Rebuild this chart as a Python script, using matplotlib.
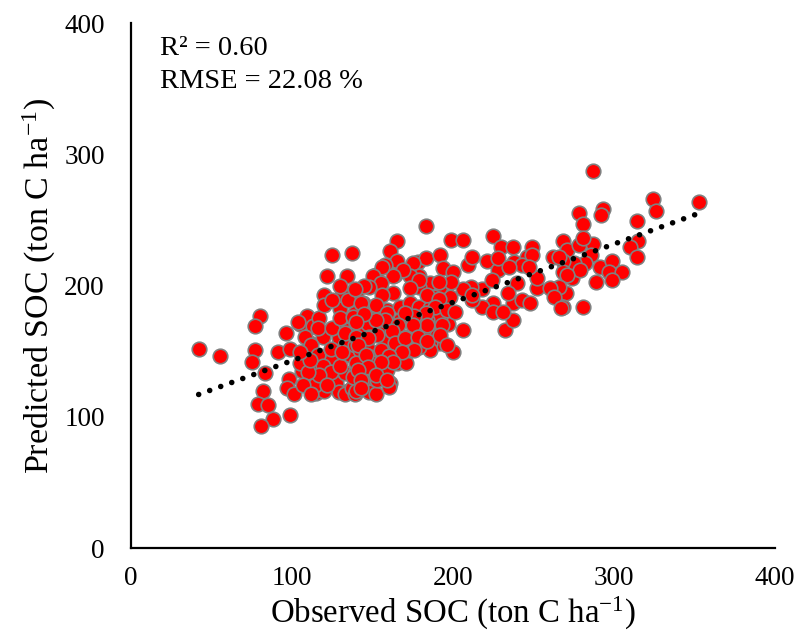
import numpy as np
import matplotlib
matplotlib.use("Agg")
import matplotlib.pyplot as plt

plt.rcParams['font.family'] = ['Liberation Serif', 'DejaVu Serif']
plt.rcParams['mathtext.fontset'] = 'custom'
plt.rcParams['mathtext.rm'] = 'Liberation Serif'
plt.rcParams['mathtext.it'] = 'Liberation Serif:italic'

# Observed SOC (x) and predicted SOC (y), ton C ha-1
observed_left = [42, 55, 80, 77, 77, 75, 83, 82, 79, 85, 88, 81, 99, 91, 96, 99, 98, 97, 101, 106,
                 105, 109, 113, 111, 117, 119, 125, 137, 122, 134, 120, 131, 140, 130, 139, 132, 125,
                 113, 115, 122, 127, 133, 139, 135, 144, 147, 144, 106, 104, 105, 129, 129, 120, 113]
predicted_left = [152, 146, 177, 169, 151, 142, 133, 120, 110, 109, 98, 93, 101, 149, 164, 152, 129,
                  122, 117, 135, 171, 177, 169, 156, 175, 161, 223, 225, 207, 207, 193, 193, 194, 182,
                  179, 168, 145, 126, 118, 128, 126, 133, 133, 120, 126, 184, 147, 145, 172, 141, 160,
                  119, 120, 136]

observed_dense = [108, 112, 116, 124, 133, 136, 119, 124, 130, 139, 114, 133, 137, 117, 110, 107, 111,
                  131, 139, 105, 116, 125, 135, 130, 120, 125, 135, 130, 140, 143, 145, 142, 145, 139,
                  145, 148, 152, 133, 112, 122]
predicted_dense = [161, 155, 147, 152, 155, 147, 139, 134, 139, 128, 124, 117, 122, 132, 134, 124, 143,
                   149, 155, 149, 168, 168, 166, 175, 185, 189, 189, 200, 170, 166, 155, 143, 136, 117,
                   124, 119, 117, 164, 117, 124]

observed_mid = [183, 199, 206, 225, 165, 161, 165, 158, 152, 164, 178, 183, 192, 194, 200, 209, 212,
                221, 230, 237, 238, 246, 249, 249, 228, 175, 228, 243, 235, 240, 237, 232, 237, 218,
                225, 234, 218, 225, 231, 243, 248, 211, 212, 206, 206, 200, 197, 195, 198, 192, 188,
                186, 179, 179, 173, 169, 163, 156, 150, 155, 148, 163, 156, 144, 138, 147, 153, 159,
                167, 173, 179, 186, 192, 184, 178, 173, 167, 161, 156, 148, 140, 142, 148, 159, 165,
                171, 178, 184, 190, 192, 186, 169, 163, 156, 147, 140, 138, 144, 140, 159, 165, 171,
                161, 160, 153, 150, 186, 179, 173]
predicted_mid = [245, 235, 235, 238, 234, 226, 219, 216, 208, 208, 218, 221, 223, 213, 210, 216, 222,
                 219, 229, 229, 218, 222, 229, 223, 212, 217, 221, 216, 214, 202, 187, 166, 174, 197,
                 187, 194, 184, 180, 180, 189, 187, 199, 189, 197, 166, 149, 171, 181, 191, 199, 191,
                 202, 199, 207, 207, 212, 207, 214, 207, 202, 199, 194, 193, 187, 176, 171, 176, 181,
                 184, 187, 184, 183, 176, 174, 171, 174, 174, 171, 164, 161, 161, 151, 151, 158, 161,
                 161, 164, 161, 162, 156, 156, 151, 151, 149, 146, 141, 130, 128, 120, 136, 141, 141,
                 126, 123, 128, 141, 151, 153, 151]

observed_mid2 = [224, 212, 199, 191, 179, 173, 145, 139, 143, 152, 184, 191, 189, 196, 201, 183, 176,
                 170, 159, 158, 152, 145, 140, 193, 184, 175, 166, 162, 153, 147, 141, 146, 155, 164,
                 170, 178, 184, 192, 196, 176, 168, 160, 163, 155, 147, 141, 152, 143, 159, 143]
predicted_mid2 = [204, 193, 203, 203, 204, 198, 200, 197, 187, 185, 193, 190, 184, 181, 180, 179, 177,
                  179, 179, 174, 174, 178, 172, 170, 170, 170, 170, 165, 162, 160, 155, 147, 151, 156,
                  160, 161, 158, 162, 155, 151, 149, 146, 142, 142, 138, 136, 132, 128, 128, 122]

observed_right = [287, 324, 326, 353, 293, 292, 278, 281, 314, 315, 310, 314, 268, 271, 278, 287, 281,
                  286, 282, 275, 268, 291, 299, 297, 305, 299, 289, 274, 268, 270, 268, 281, 279, 262,
                  271, 266, 252, 260, 266, 252, 263, 267, 247]
predicted_right = [287, 266, 257, 264, 258, 254, 255, 247, 249, 234, 229, 222, 234, 227, 231, 232, 236,
                   223, 217, 217, 219, 214, 219, 210, 210, 204, 203, 206, 210, 194, 184, 184, 212, 222,
                   208, 199, 198, 198, 222, 206, 191, 183, 214]

x_ticks = [0, 100, 200, 300, 400]
y_ticks = [0, 100, 200, 300, 400]
r2_text = "R\u00b2 = 0.60"
rmse_text = "RMSE = 22.08 %"
x_label = r"Observed SOC (ton C ha$^{\mathrm{-1}}$)"
y_label = r"Predicted SOC (ton C ha$^{\mathrm{-1}}$)"

observed = np.array(observed_left + observed_dense + observed_mid + observed_mid2 + observed_right, float)
predicted = np.array(predicted_left + predicted_dense + predicted_mid + predicted_mid2 + predicted_right, float)

fig = plt.figure(figsize=(7.99, 6.34), dpi=100)
ax = fig.add_axes([0.164, 0.1356, 0.806, 0.8281])

ax.scatter(observed, predicted, s=110, c='#ff0000', edgecolors='#808080', linewidths=1.2, zorder=2)

slope, intercept = np.polyfit(observed, predicted, 1)
xl = np.array([observed.min(), observed.max()])
ax.plot(xl, slope * xl + intercept, color='black', linewidth=4.0,
        linestyle=(0, (0.01, 2.1)), dash_capstyle='round', zorder=3)

ax.set_xlim(0, 400)
ax.set_ylim(0, 400)
ax.set_xticks(x_ticks)
ax.set_yticks(y_ticks)
ax.tick_params(length=0, labelsize=19.5, pad=13)
ax.tick_params(axis='y', pad=19)
for s in ['top', 'right']:
    ax.spines[s].set_visible(False)
for s in ['left', 'bottom']:
    ax.spines[s].set_linewidth(1.6)
    ax.spines[s].set_color('black')

ax.set_xlabel(x_label, fontsize=23.7, labelpad=3)
ax.set_ylabel(y_label, fontsize=24.5, labelpad=4)

ax.text(0.045, 0.975, r2_text, transform=ax.transAxes, fontsize=20.5, va='top', ha='left')
ax.text(0.045, 0.913, rmse_text, transform=ax.transAxes, fontsize=20.5, va='top', ha='left')

fig.savefig("out.png", dpi=100)
